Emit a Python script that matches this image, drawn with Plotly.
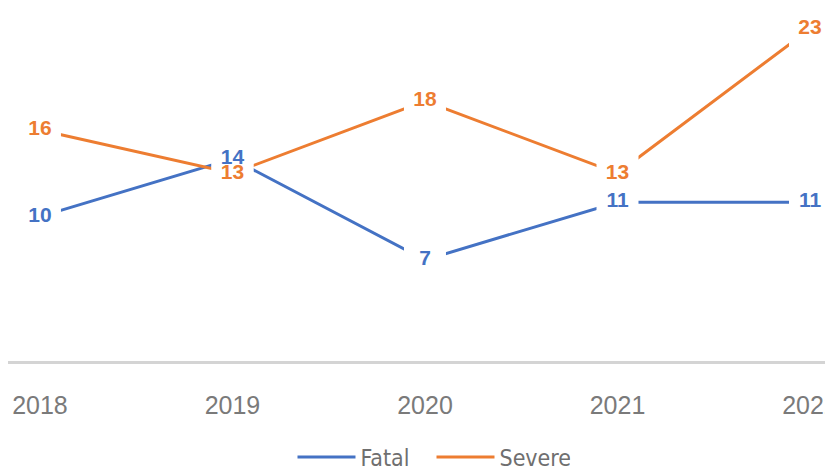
import plotly.graph_objects as go

years = ["2018", "2019", "2020", "2021", "2022"]
fatal = [10, 14, 7, 11, 11]
severe = [16, 13, 18, 13, 23]

BLUE = "#4472C4"
ORANGE = "#ED7D31"

fig = go.Figure()
# lines
fig.add_trace(go.Scatter(x=years, y=fatal, mode="lines", name="Fatal",
                         line=dict(color=BLUE, width=3)))
fig.add_trace(go.Scatter(x=years, y=severe, mode="lines", name="Severe",
                         line=dict(color=ORANGE, width=3)))
# white knock-outs behind labels
for vals in (fatal, severe):
    fig.add_trace(go.Scatter(x=years, y=vals, mode="markers", showlegend=False,
                             hoverinfo="skip", cliponaxis=False,
                             marker=dict(symbol="square", size=42, color="white")))
# labels
for vals, col in ((fatal, BLUE), (severe, ORANGE)):
    fig.add_trace(go.Scatter(x=years, y=vals, mode="text", showlegend=False,
                             text=[str(v) for v in vals], textposition="middle center",
                             cliponaxis=False,
                             textfont=dict(family="Liberation Sans, Arial", size=21,
                                           color=col, weight="bold")))

fig.update_layout(
    width=833, height=475,
    margin=dict(l=0, r=0, t=0, b=122),
    paper_bgcolor="white", plot_bgcolor="white",
    showlegend=True,
    legend=dict(orientation="h", x=0.5084, xanchor="center", y=-0.272, yanchor="middle",
                font=dict(family="Liberation Sans Narrow, DejaVu Sans Condensed, Arial",
                          size=23, color="#6f6f6f"),
                itemwidth=58, entrywidth=66, entrywidthmode="pixels", tracegroupgap=0),
    xaxis=dict(type="category", range=[-0.166, 4.161], showgrid=False, zeroline=False,
               showline=True, linecolor="#d4d4d4", linewidth=3, automargin=False,
               ticks="outside", ticklen=20, tickcolor="rgba(0,0,0,0)",
               tickfont=dict(family="Liberation Sans, Arial", size=25, color="#7a7a7a")),
    yaxis=dict(range=[0, 24.45], visible=False, showgrid=False, zeroline=False),
)

fig.write_html("out.html")
